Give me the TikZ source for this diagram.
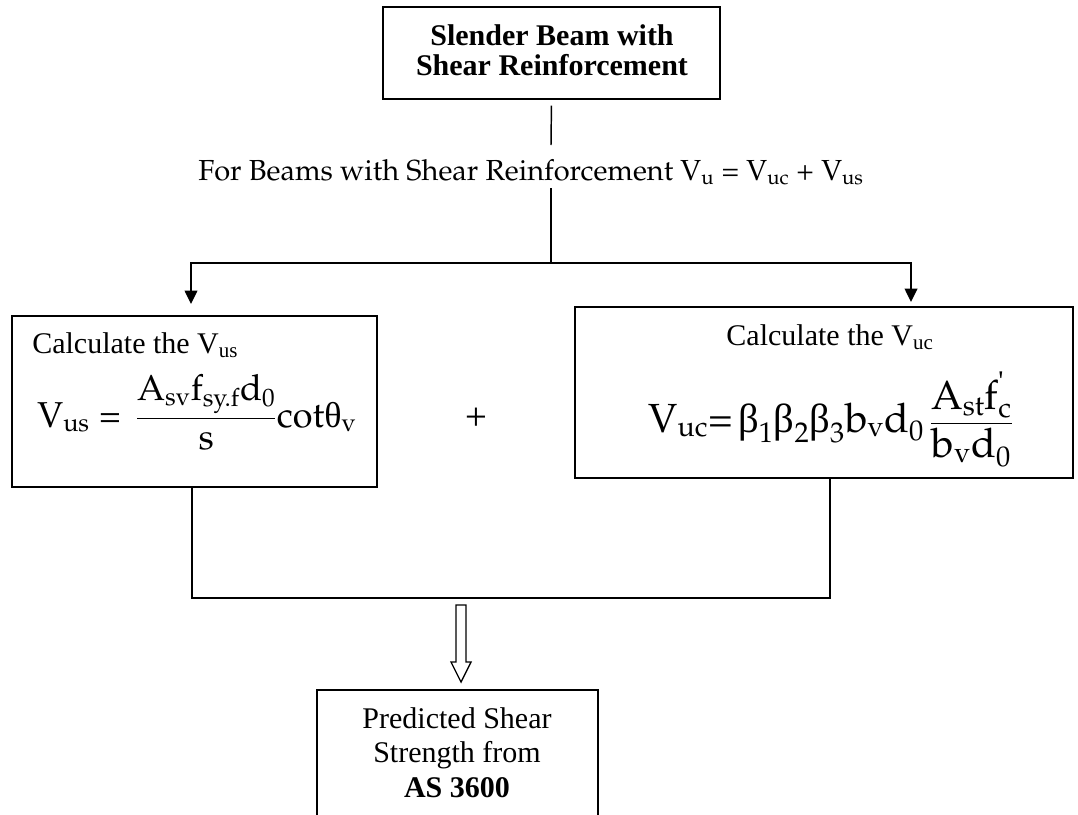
\documentclass[tikz,border=0pt]{standalone}
\usepackage[T1,TU]{fontenc}
\usepackage{amsmath}
\usepackage{fontspec}
\setmainfont{Liberation Serif}
\newfontfamily\grk{Liberation Serif}
\newcommand\pal{\usefont{T1}{ppl}{m}{n}}
\newcommand\T[1]{\text{\pal #1}}
\newcommand\G[1]{\text{\grk #1}}
\usetikzlibrary{arrows.meta,fit}
\tikzset{
  box/.style={draw, line width=1.1pt, inner sep=0pt},
  conn/.style={line width=1.1pt},
  arr/.style={conn, -{Triangle[length=10pt,width=9.5pt]}},
  tnr/.style={font=\fontsize{22.5}{25.9}\selectfont, inner sep=0pt},
  tnrb/.style={font=\bfseries\fontsize{22.5}{25.9}\selectfont, inner sep=0pt},
  palt/.style={font=\pal\fontsize{21.75}{24}\selectfont, inner sep=0pt},
}
\begin{document}
\begin{tikzpicture}[x=0.75pt,y=-0.75pt]
\useasboundingbox (0,0) rectangle (1078,814);
\fill[white] (0,0) rectangle (1078,814);
\clip (0,0) rectangle (1078,814);

% top box
\node[box, fit={(383,7)(720,99)}] (top) {};
\node[tnrb, anchor=base] (top1) at (552,45) {Slender Beam with};
\node[tnrb, anchor=base] (top2) at (552,75) {Shear Reinforcement};

% condition text
\node[palt, anchor=base west] (cond) at (198,180)
  {For Beams with Shear Reinforcement V\textsubscript{u} = V\textsubscript{uc} + V\textsubscript{us}};

\coordinate (c2) at (551,145);
\coordinate (c3) at (551,188);
\coordinate (split) at (551,263);
\coordinate (aL) at (191,304);
\coordinate (aR) at (911,302);
\draw[conn, shorten <=4.5pt] (top.south) -- (c2);
\draw[conn] (c3) -- (split);
\draw[arr] (split) -| (aL);
\draw[arr] (split) -| (aR);

% left box
\node[box, fit={(12,316)(377,487)}] (lbox) {};
\node[tnr, anchor=base west] (ltitle) at (32,353) {Calculate the V\textsubscript{us}};
\node[anchor=base west, inner sep=0pt, font=\fontsize{27}{30}\selectfont] (lform) at (37,427)
  {$\T{V}_{\T{us}}\;\T{=}\;\,\dfrac{\T{A}_{\T{sv}}\T{f}_{\T{sy.f}}\T{d}_{\T{0}}}{\T{s}}\T{cot}\G{θ}_{\T{v}}$};

% plus
\node[inner sep=0pt, font=\pal\fontsize{27}{30}\selectfont] (plus) at (476,417) {+};

% right box
\node[box, fit={(575,307)(1073,478)}] (rbox) {};
\node[tnr, anchor=base] (rtitle) at (830,345) {Calculate the V\textsubscript{uc}};
\node[anchor=base west, inner sep=0pt, font=\fontsize{30.5}{33}\selectfont] (rform) at (648,432)
  {$\T{V}_{\T{uc}}\T{=}\,\G{β}_{\T{1}}\G{β}_{\T{2}}\G{β}_{\T{3}}\T{b}_{\T{v}}\T{d}_{\T{0}}\,\dfrac{\T{A}_{\T{st}}\T{f}^{\G{\symbol{39}}}_{\T{c}}}{\T{b}_{\T{v}}\T{d}_{\T{0}}}$};

% joining connector
\coordinate (lj) at (192,598);
\coordinate (rj) at (830,598);
\draw[conn] (lj |- lbox.south) -- (lj) -- (rj) -- (rj |- rbox.south);

% hollow arrow
\draw[line width=1pt, fill=white] (456,605) -- (466,605) -- (466,662) -- (471,662) -- (461,682) -- (451,662) -- (456,662) -- cycle;

% bottom box
\node[box, fit={(317,690)(598,830)}] (bot) {};
\node[tnr, anchor=base] (b1) at (457,728) {Predicted Shear};
\node[tnr, anchor=base] (b2) at (457,762) {Strength from};
\node[tnrb, anchor=base] (b3) at (457,797) {AS 3600};
\end{tikzpicture}
\end{document}
